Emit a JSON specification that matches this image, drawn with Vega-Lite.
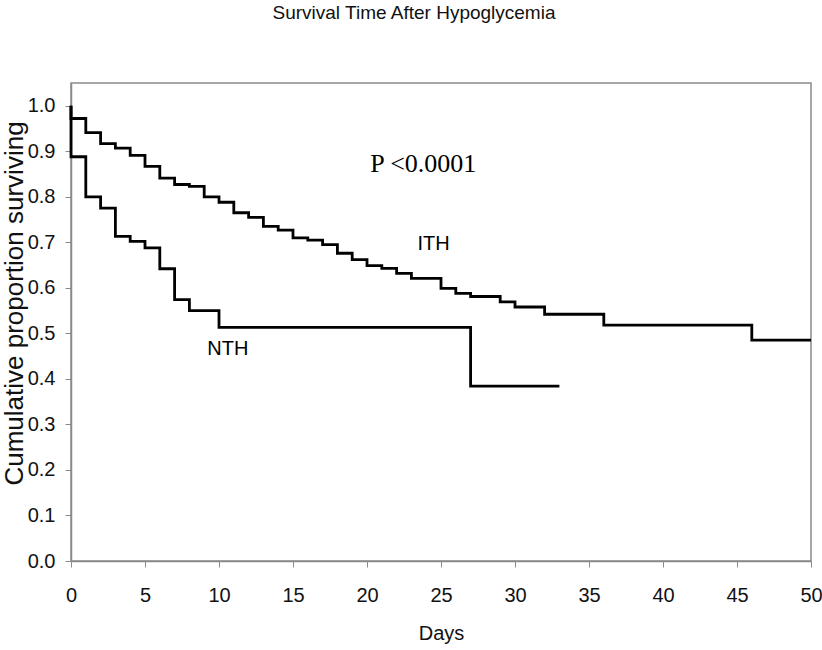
{
  "$schema": "https://vega.github.io/schema/vega-lite/v6.json",
  "width": 740,
  "height": 478,
  "autosize": "none",
  "padding": {"left": 71, "top": 83, "right": 11, "bottom": 89},
  "background": "white",
  "config": {
    "view": {"stroke": "#8a8a8a", "strokeWidth": 1.5},
    "font": "Liberation Sans",
    "axis": {
      "grid": false,
      "domainColor": "#8a8a8a",
      "domainWidth": 1.5,
      "tickColor": "#8a8a8a",
      "tickSize": 6,
      "labelColor": "#111111",
      "titleColor": "#111111",
      "labelFont": "Liberation Sans",
      "titleFont": "Liberation Sans",
      "titleFontWeight": "normal",
      "labelFontSize": 20,
      "titleFontSize": 20
    }
  },
  "title": {
    "text": "Survival Time After Hypoglycemia",
    "font": "Liberation Sans",
    "fontSize": 19,
    "fontWeight": "normal",
    "color": "#111111",
    "anchor": "middle",
    "frame": "group",
    "dx": -27,
    "offset": 60
  },
  "datasets": {
    "curves": [
      {"group": "ITH", "i": 0, "day": 0, "surv": 1.0},
      {"group": "ITH", "i": 1, "day": 0, "surv": 0.972},
      {"group": "ITH", "i": 2, "day": 1, "surv": 0.941},
      {"group": "ITH", "i": 3, "day": 2, "surv": 0.917},
      {"group": "ITH", "i": 4, "day": 3, "surv": 0.907},
      {"group": "ITH", "i": 5, "day": 4, "surv": 0.891},
      {"group": "ITH", "i": 6, "day": 5, "surv": 0.867},
      {"group": "ITH", "i": 7, "day": 6, "surv": 0.841},
      {"group": "ITH", "i": 8, "day": 7, "surv": 0.827},
      {"group": "ITH", "i": 9, "day": 8, "surv": 0.823},
      {"group": "ITH", "i": 10, "day": 9, "surv": 0.8},
      {"group": "ITH", "i": 11, "day": 10, "surv": 0.788},
      {"group": "ITH", "i": 12, "day": 11, "surv": 0.765},
      {"group": "ITH", "i": 13, "day": 12, "surv": 0.755},
      {"group": "ITH", "i": 14, "day": 13, "surv": 0.735},
      {"group": "ITH", "i": 15, "day": 14, "surv": 0.727},
      {"group": "ITH", "i": 16, "day": 15, "surv": 0.71},
      {"group": "ITH", "i": 17, "day": 16, "surv": 0.705},
      {"group": "ITH", "i": 18, "day": 17, "surv": 0.695},
      {"group": "ITH", "i": 19, "day": 18, "surv": 0.676},
      {"group": "ITH", "i": 20, "day": 19, "surv": 0.662},
      {"group": "ITH", "i": 21, "day": 20, "surv": 0.649},
      {"group": "ITH", "i": 22, "day": 21, "surv": 0.643},
      {"group": "ITH", "i": 23, "day": 22, "surv": 0.632},
      {"group": "ITH", "i": 24, "day": 23, "surv": 0.621},
      {"group": "ITH", "i": 25, "day": 25, "surv": 0.599},
      {"group": "ITH", "i": 26, "day": 26, "surv": 0.588},
      {"group": "ITH", "i": 27, "day": 27, "surv": 0.581},
      {"group": "ITH", "i": 28, "day": 29, "surv": 0.569},
      {"group": "ITH", "i": 29, "day": 30, "surv": 0.558},
      {"group": "ITH", "i": 30, "day": 32, "surv": 0.542},
      {"group": "ITH", "i": 31, "day": 36, "surv": 0.518},
      {"group": "ITH", "i": 32, "day": 46, "surv": 0.485},
      {"group": "ITH", "i": 33, "day": 50, "surv": 0.485},
      {"group": "NTH", "i": 0, "day": 0, "surv": 1.0},
      {"group": "NTH", "i": 1, "day": 0, "surv": 0.888},
      {"group": "NTH", "i": 2, "day": 1, "surv": 0.8},
      {"group": "NTH", "i": 3, "day": 2, "surv": 0.775},
      {"group": "NTH", "i": 4, "day": 3, "surv": 0.713},
      {"group": "NTH", "i": 5, "day": 4, "surv": 0.702},
      {"group": "NTH", "i": 6, "day": 5, "surv": 0.688},
      {"group": "NTH", "i": 7, "day": 6, "surv": 0.642},
      {"group": "NTH", "i": 8, "day": 7, "surv": 0.574},
      {"group": "NTH", "i": 9, "day": 8, "surv": 0.55},
      {"group": "NTH", "i": 10, "day": 10, "surv": 0.513},
      {"group": "NTH", "i": 11, "day": 27, "surv": 0.384},
      {"group": "NTH", "i": 12, "day": 33, "surv": 0.384}
    ],
    "pval": [
      {"label": "P <0.0001", "day": 23.8, "surv": 0.871}
    ],
    "labels": [
      {"label": "ITH", "day": 24.5, "surv": 0.696},
      {"label": "NTH", "day": 10.6, "surv": 0.466}
    ]
  },
  "layer": [
    {
      "data": {"name": "curves"},
      "mark": {"type": "line", "interpolate": "step-after", "color": "black", "strokeWidth": 2.8, "strokeJoin": "miter", "strokeCap": "butt"},
      "encoding": {
        "x": {
          "field": "day",
          "type": "quantitative",
          "scale": {"domain": [0, 50], "nice": false, "zero": false},
          "axis": {
            "title": "Days",
            "values": [0, 5, 10, 15, 20, 25, 30, 35, 40, 45, 50],
            "labelPadding": 18,
            "titlePadding": 18,
            "labelFlush": false
          }
        },
        "y": {
          "field": "surv",
          "type": "quantitative",
          "scale": {"domain": [0, 1.05], "nice": false},
          "axis": {
            "title": "Cumulative proportion surviving",
            "values": [0, 0.1, 0.2, 0.3, 0.4, 0.5, 0.6, 0.7, 0.8, 0.9, 1.0],
            "format": ".1f",
            "labelPadding": 10,
            "titleFontSize": 26,
            "titleX": -57,
            "titleY": 220,
            "titleBaseline": "middle"
          }
        },
        "detail": {"field": "group", "type": "nominal"},
        "order": {"field": "i", "type": "quantitative"}
      }
    },
    {
      "data": {"name": "pval"},
      "mark": {"type": "text", "font": "Liberation Serif", "fontSize": 26, "color": "black", "align": "center", "baseline": "middle"},
      "encoding": {
        "x": {"field": "day", "type": "quantitative"},
        "y": {"field": "surv", "type": "quantitative"},
        "text": {"field": "label", "type": "nominal"}
      }
    },
    {
      "data": {"name": "labels"},
      "mark": {"type": "text", "font": "Liberation Sans", "fontSize": 20, "color": "black", "align": "center", "baseline": "middle"},
      "encoding": {
        "x": {"field": "day", "type": "quantitative"},
        "y": {"field": "surv", "type": "quantitative"},
        "text": {"field": "label", "type": "nominal"}
      }
    }
  ]
}
